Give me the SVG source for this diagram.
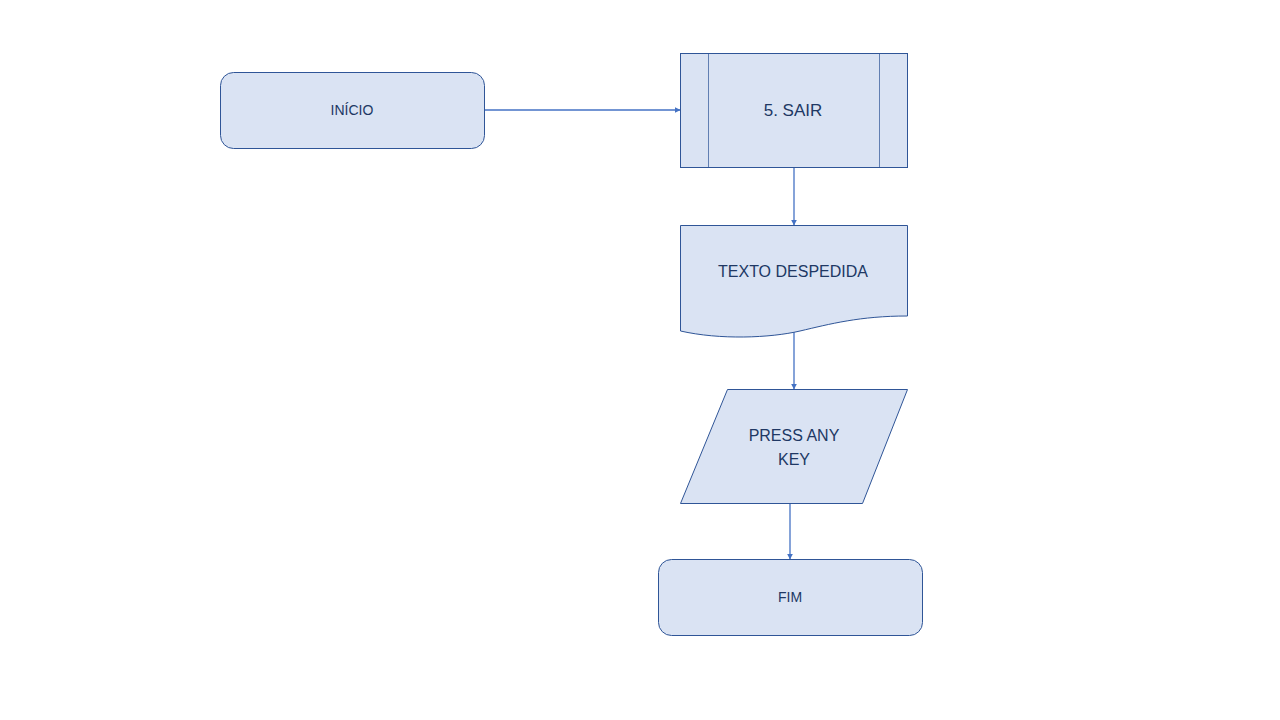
<svg xmlns="http://www.w3.org/2000/svg" width="1280" height="720" viewBox="0 0 1280 720">
<defs>
<style>
.shape{fill:#DAE3F3;stroke:#2F5597;stroke-width:1}
.inner{stroke:#2F5597;stroke-width:1;opacity:0.7}
.lbl{font-family:"Liberation Sans",Arial,sans-serif;fill:#203864;text-anchor:middle;dominant-baseline:central}
.conn{stroke:#4472C4;stroke-width:1.3;fill:none;marker-end:url(#arr)}
</style>
<marker id="arr" viewBox="0 0 10 10" refX="9" refY="5" markerWidth="6" markerHeight="6" markerUnits="userSpaceOnUse" orient="auto">
<path d="M0,0 L10,5 L0,10 z" fill="#4472C4"/>
</marker>
</defs>
<rect width="1280" height="720" fill="#FFFFFF"/>
<g id="connectors">
<line class="conn" x1="484" y1="110" x2="680" y2="110"/>
<line class="conn" x1="794" y1="167" x2="794" y2="225"/>
<line class="conn" x1="794" y1="332" x2="794" y2="389"/>
<line class="conn" x1="790" y1="503" x2="790" y2="559"/>
</g>
<g id="inicio">
<rect class="shape" x="220.5" y="72.5" width="264" height="76" rx="13"/>
<text class="lbl" x="352" y="110" font-size="14">INÍCIO</text>
</g>
<g id="sair">
<rect class="shape" x="680.5" y="53.5" width="227" height="114"/>
<line class="inner" x1="708.5" y1="53.5" x2="708.5" y2="167.5"/>
<line class="inner" x1="879.5" y1="53.5" x2="879.5" y2="167.5"/>
<text class="lbl" x="793" y="110" font-size="17">5. SAIR</text>
</g>
<g id="despedida">
<path class="shape" d="M680.5,225.5 H907.5 V316 C860,316 830,324 800,331 C770,338 720,340 680.5,331 Z"/>
<text class="lbl" x="793" y="271" font-size="16">TEXTO DESPEDIDA</text>
</g>
<g id="pressanykey">
<path class="shape" d="M727.5,389.5 H907.5 L862.5,503.5 H680.5 Z"/>
<text class="lbl" x="794" y="435" font-size="16">PRESS ANY</text>
<text class="lbl" x="794" y="459" font-size="16">KEY</text>
</g>
<g id="fim">
<rect class="shape" x="658.5" y="559.5" width="264" height="76" rx="13"/>
<text class="lbl" x="790" y="597" font-size="14">FIM</text>
</g>
</svg>
